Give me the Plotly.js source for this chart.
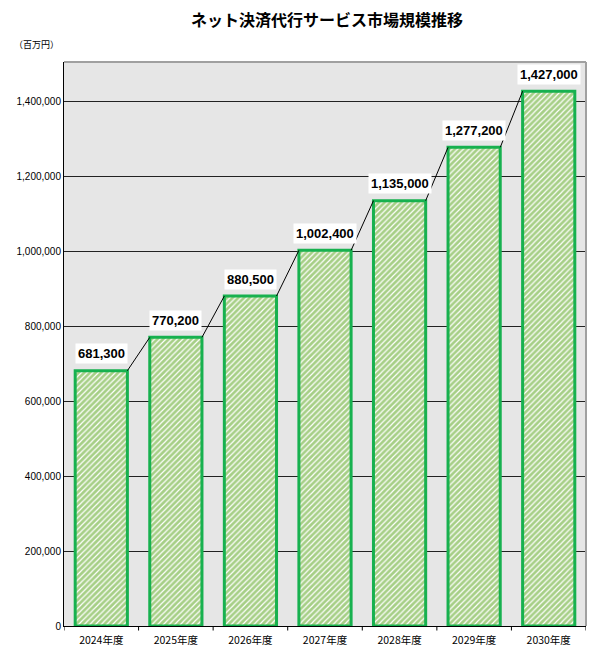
<!DOCTYPE html>
<html><head><meta charset="utf-8">
<script src="https://cdn.plot.ly/plotly-3.0.1.min.js"></script>
<style>body{margin:0;background:#fff}</style>
</head><body>
<div id="chart" style="width:611px;height:650px"></div>
<script>
const categories = ["2024年度","2025年度","2026年度","2027年度","2028年度","2029年度","2030年度"];
const values = [681300, 770200, 880500, 1002400, 1135000, 1277200, 1427000];
const valueLabels = ["681,300","770,200","880,500","1,002,400","1,135,000","1,277,200","1,427,000"];
const yTickVals = [0,200000,400000,600000,800000,1000000,1200000,1400000];
const yTickText = ["0","200,000","400,000","600,000","800,000","1,000,000","1,200,000","1,400,000"];

const xs = categories.map((c,i)=>i);
const halfW = 0.35;
const jp = '"Noto Sans CJK JP", "Liberation Sans", sans-serif';

// connector lines from top-right of each bar to top-left of next bar
const lx = [], ly = [];
for (let i=0;i<values.length-1;i++){
  lx.push(xs[i]+halfW, xs[i+1]-halfW, null);
  ly.push(values[i], values[i+1], null);
}

const traces = [
  {type:'bar', x:xs, y:values, width:0.7,
   marker:{color:'#b5d89a', line:{color:'#17b14f', width:3},
     pattern:{shape:'/', bgcolor:'#a6cf86', fgcolor:'#ffffff', size:4, solidity:0.3}},
   hoverinfo:'skip'},
  {type:'scatter', mode:'lines', x:lx, y:ly, line:{color:'#000', width:1}, hoverinfo:'skip'}
];

const annotations = values.map((v,i)=>({
  x:xs[i], y:v, yshift:17, text:'<b>'+valueLabels[i]+'</b>', showarrow:false,
  bgcolor:'#ffffff', font:{family:'"Liberation Sans", Arial, sans-serif', size:13, color:'#000'},
  borderpad:2
}));
annotations.push({xref:'paper', yref:'paper', x:-0.1, y:1.0, yshift:9, xanchor:'left', yanchor:'bottom',
  text:'（百万円）', showarrow:false, font:{family:jp, size:9, color:'#000'}});

const layout = {
  width:611, height:650,
  margin:{l:64, r:25, t:62, b:24},
  paper_bgcolor:'#fff', plot_bgcolor:'#e6e6e6',
  showlegend:false,
  title:{text:'<b>ネット決済代行サービス市場規模推移</b>', x:0.535, xanchor:'center', y:0.977, yanchor:'top',
    font:{family:jp, size:16, color:'#000'}},
  xaxis:{range:[-0.5, 6.5], tickvals:xs, ticktext:categories, showgrid:false, zeroline:false,
    showline:true, linecolor:'#000', linewidth:1, ticks:'', ticklabelstandoff:4,
    tickfont:{family:jp, size:10.5, color:'#000'}, mirror:false},
  yaxis:{range:[0,1505000], tickvals:yTickVals, ticktext:yTickText, showgrid:true, gridcolor:'#222', gridwidth:1,
    zeroline:false, showline:true, linecolor:'#000', linewidth:1, ticks:'',
    tickfont:{family:'"Liberation Sans", Arial, sans-serif', size:10, color:'#000'}},
  annotations:annotations,
  shapes:[
    {type:'line', xref:'paper', yref:'paper', x0:0, x1:1, y0:1, y1:1, line:{color:'#a0a0a0', width:2}},
    {type:'line', xref:'paper', yref:'paper', x0:1, x1:1, y0:0, y1:1, line:{color:'#a0a0a0', width:2}},
  ].concat([0,1,2,3,4,5,6,7].map(k=>({type:'line', xref:'x', yref:'paper', x0:k-0.5, x1:k-0.5, y0:0, y1:-0.008, line:{color:'#000', width:1}})))
};

Plotly.newPlot('chart', traces, layout, {displayModeBar:false, staticPlot:true});
</script>
</body></html>
